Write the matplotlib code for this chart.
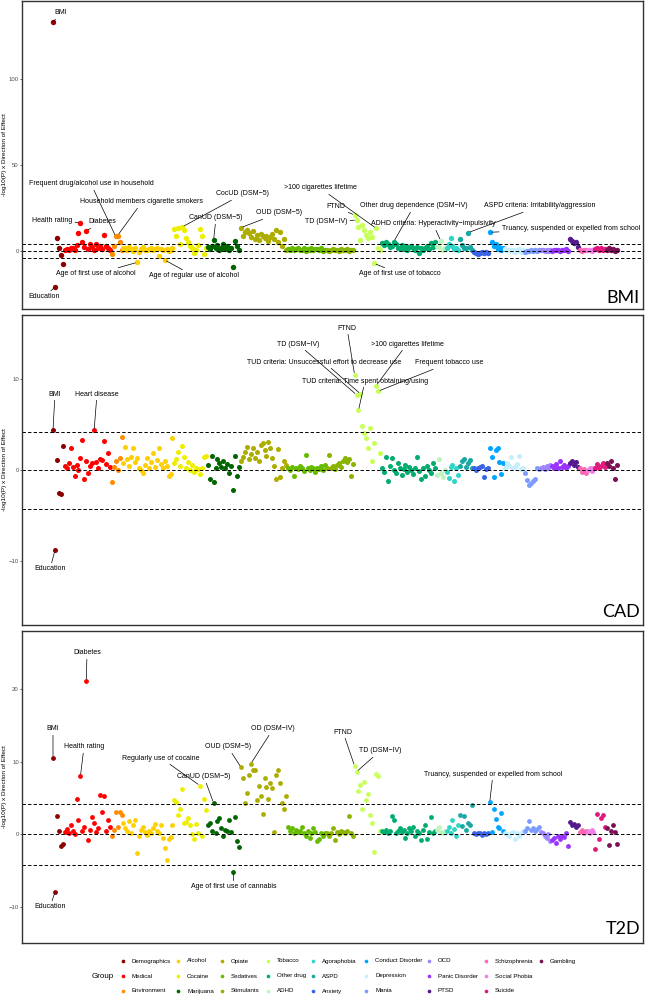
import matplotlib
matplotlib.use("Agg")
import matplotlib.pyplot as plt
import numpy as np

# ---------------- data ----------------
groups = ["Demographics", "Medical", "Environment", "Alcohol", "Cocaine", "Marijuana",
          "Opiate", "Sedatives", "Stimulants", "Tobacco", "Other drug", "ADHD",
          "Agoraphobia", "ASPD", "Anxiety", "Conduct Disorder", "Depression", "Mania",
          "OCD", "Panic Disorder", "PTSD", "Schizophrenia", "Social Phobia", "Suicide",
          "Gambling"]
group_colors = ["#8B0000", "#FF0000", "#FF8C00", "#FFD000", "#EEEE00", "#006400",
                "#ADAD00", "#66BB00", "#8AB400", "#C8FF5A", "#00AD6E", "#BDF5BD",
                "#30D5C8", "#1AA8A0", "#3A63E8", "#00A5FF", "#C6EEFF", "#7E9CFF",
                "#9F86FF", "#9933FF", "#54198C", "#FF66B3", "#F080E8", "#E0197D",
                "#7B1155"]

bmi_values = [
    [133, -21, 7.8, 1.5, -2.3, -7.8],
    [0.5, 1.2, 0.8, 2.0, 1.5, 0.3, 3.5, 10.3, 16.5, 5.5, 2.5, 11.8, 1.0, 3.8, 2.2, 0.6, 4.0, 1.5, 2.8, 0.9, 9.3, 3.0, 1.8, 0.7],
    [-1.7, 3.0, 8.5, 9.0, 5.5, 0.8],
    [2.0, 1.5, 0.5, 2.5, 1.0, 0.2, 1.8, -6.6, -0.5, 1.2, 2.2, 0.4, 0.8, 0.9, 1.6, 0.3, 1.0, 2.0, -2.9, 1.4, 0.6, -5.2, 1.1, 0.2, 0.5, 1.8],
    [13.0, 8.5, 13.5, 4.0, 14.0, 12.0, 7.5, 5.5, 3.0, 1.5, -1.0, 0.5, 3.5, 12.6, 9.0, -1.5, 2.0],
    [2.5, 1.0, 3.0, 6.4, 1.5, 3.5, 0.5, 2.0, 4.0, 1.2, 2.8, 0.3, 1.8, -9.1, 5.8, 3.0, 0.8],
    [13.6, 9.0, 11.0, 12.0, 10.5, 8.0, 11.5, 7.0, 9.5, 6.5, 10.0, 8.5, 7.5, 9.0, 6.0, 8.0, 10.0, 7.0, 12.5, 5.5, 11.0, 3.0, 7.0, 0.5],
    [1.2, 0.5, 1.8, 0.3, 1.0, 2.0, 0.8, 0.4, 1.5, 0.2, 1.0, 0.6, 1.8, 0.3, 0.9, 1.3, 0.5, 1.6, 0.2, 0.8],
    [0.5, 0.2, 0.8, 1.0, 0.3, 0.6, 0.1, 0.9, 0.4, 0.7, 1.1, 0.2, 0.5, 0.8],
    [20.9, 18.0, 14.0, 6.5, 15.0, 12.0, 9.5, 7.5, 11.0, 8.0, -7.2, 13.2, 1.5, 0.5],
    [4.5, 3.5, 5.0, 4.0, 2.5, 3.0, 5.4, 4.2, 1.5, 2.0, 3.5, 1.0, 2.8, 0.5, 2.2, 3.0, 1.5, 0.8, 2.5, -1.0, 1.8, 0.3, 2.0, 3.2, 1.0, 4.5, 2.5, 5.0],
    [3.0, 2.5, 6.0, 0.5, 1.5],
    [1.5, 4.0, 7.4, 3.0, 1.0, 2.0, 0.5],
    [7.0, 3.5, 2.0, 1.5, 10.7, 2.5, 0.8],
    [-0.5, -1.2, -1.5, -1.0, -0.8, -1.3, -0.6, -1.0],
    [10.9, 5.5, 3.0, 4.0, 1.0, 2.5, 0.5, 1.5],
    [1.0, 0.5, 0.8, 0.2, 0.6, -0.5, 0.3, 0.9, -0.8, 0.4],
    [-0.3, 0.2, 0.0, 0.5, -0.2, 0.3, 0.1, 0.4],
    [0.3, 0.6, 0.1, 0.4, 0.2, 0.5],
    [0.2, 0.5, 0.8, 0.3, 0.1, 0.6, 0.4, 0.9, 0.2],
    [7.0, 6.0, 4.5, 5.5, 2.5],
    [0.5, 0.2, 0.8, 0.4],
    [0.3, 0.6, 0.1, 0.5],
    [1.0, 1.5, 0.5, 2.0, 0.8, 1.2],
    [0.5, 1.5, 0.3, 1.0, 0.2, 0.8],
]

cad_values = [
    [4.4, -8.8, 1.1, -2.5, -2.6, 2.7],
    [0.5, 0.3, 0.8, 2.5, 0.4, -0.6, 0.6, 0.0, 1.4, 3.3, -1.0, 1.0, -0.3, 0.5, 0.8, 4.4, 0.9, 0.2, 1.2, 1.1, 3.2, 0.7, 1.9, 0.4],
    [-1.3, 0.4, 1.0, 0.0, 1.3, 3.7],
    [0.8, 2.6, 1.2, 0.5, 1.5, 2.5, 0.9, 1.4, 0.3, 0.0, -0.3, 0.6, 1.3, 0.2, 0.9, 1.9, 0.4, 1.1, 2.4, 0.7, 0.2, 1.0, 0.5, -0.6, -0.4, 3.6],
    [0.8, 1.2, 2.0, 0.5, 2.7, 1.5, 0.3, 0.9, 0.0, 0.6, -0.2, 0.3, 0.1, -0.4, 0.2, 1.5, 1.6],
    [0.6, -1.0, 1.6, -1.3, 0.3, 1.2, 0.8, 0.4, 1.0, 0.2, 0.7, -0.3, 0.5, -2.2, 1.6, -0.6, 0.4],
    [1.0, 1.5, 2.0, 2.6, 1.2, 1.8, 2.5, 1.4, 2.0, 1.0, 2.8, 3.0, 2.2, 1.6, 3.1, 2.4, 1.3, 0.5, -0.9, 2.3, -0.7, 0.3, 1.0, 0.6],
    [0.2, 0.0, 0.4, -0.6, 0.3, 0.1, 0.5, 0.2, -0.1, 1.7, 0.3, 0.0, 0.4, 0.2, -0.2, 0.3, 0.1, 0.5, 0.0, 0.6],
    [0.3, 1.7, 0.2, 0.5, 0.1, 0.6, 0.8, 0.4, 1.0, 1.4, 0.9, 1.2, -0.6, 0.7],
    [10.5, 8.3, 6.6, 8.4, 4.9, 4.1, 3.5, 2.5, 4.7, 1.0, 3.0, 9.3, 8.7, 1.9],
    [0.2, -0.2, 1.5, -1.2, 0.5, 1.4, 0.0, -0.3, 0.8, 0.3, -0.5, 0.1, 0.6, -0.2, 0.4, 0.0, -0.4, 0.2, 1.5, -0.1, -1.0, 0.3, -0.6, 0.5, 0.0, -0.3, 0.8, 0.3],
    [-0.5, 1.2, -0.3, -0.7, 0.0],
    [-0.2, -0.8, 0.4, 0.6, -1.2, 0.3, -0.5],
    [0.5, 1.0, 1.2, 0.4, 0.8, 1.1, 0.2],
    [0.3, 0.0, 0.2, 0.4, 0.5, -0.7, 0.1, 0.3],
    [2.4, 1.5, -0.7, 2.2, 2.4, 0.9, -0.4, 0.8],
    [0.3, 0.8, 0.5, 1.5, 0.2, 0.4, 0.7, 1.6, 0.1, 0.3],
    [-0.3, -1.1, -1.6, -1.4, -1.2, -0.9, 0.3, 0.1],
    [0.3, 0.4, 0.1, 0.5, 0.2, 0.6],
    [0.5, 0.2, 0.7, 0.3, 1.0, 0.4, 0.6, 0.2, 0.5],
    [0.8, 1.0, 0.6, 0.9, 0.4],
    [0.2, -0.2, 0.1, -0.3],
    [0.0, 0.3, -0.1, 0.2],
    [0.3, 0.7, 0.2, 0.5, 0.8, 0.4],
    [0.8, 0.5, 1.0, 0.3, -1.0, 0.6],
]

t2d_values = [
    [10.5, -8.0, 2.5, 0.5, -1.7, -1.4],
    [0.3, 0.7, 0.2, 1.2, 0.5, 0.0, 4.8, 2.0, 8.0, 0.4, 1.0, 21.1, -0.8, 0.6, 2.4, 1.5, 0.3, 0.9, 5.4, 3.1, 5.2, 0.5, 2.0, 1.0],
    [-0.3, 0.6, 3.1, 1.0, 3.0, 2.7],
    [1.5, 0.8, 0.5, 1.8, 0.2, 1.2, 1.9, -2.6, -0.2, 0.6, 1.0, 0.3, -0.1, 0.5, 0.2, 0.8, 1.4, 0.4, 0.1, 1.2, -0.5, -1.9, -3.5, -0.6, -0.4, 1.3],
    [4.7, 4.5, 2.6, 3.5, 6.2, 1.5, 1.7, 2.2, 1.2, 0.0, -0.6, 1.4, 0.1, 6.7, -0.3, 4.9, 3.3],
    [1.2, 1.5, 0.5, 4.3, 0.2, 1.8, 2.2, 0.8, -0.3, 0.6, 0.4, 2.0, 0.3, -5.2, 2.4, -1.0, -1.8],
    [9.2, 7.7, 4.3, 5.7, 8.2, 9.7, 8.9, 8.9, 4.7, 6.6, 5.3, 2.8, 7.7, 6.5, 4.8, 7.0, 6.3, 0.3, 8.1, 8.8, 7.0, 4.3, 3.4, 5.3],
    [1.0, 0.4, 0.8, 0.2, 0.6, 0.3, 0.5, 1.0, 0.2, -0.3, 0.4, -0.5, 0.1, 0.8, 0.3, -1.0, -0.6, 0.2, -0.3, 0.1],
    [0.2, -0.3, 0.1, 0.8, -0.8, 0.3, 0.0, 0.5, 0.3, 0.1, 0.4, 2.5, 0.2, -0.3],
    [9.4, 8.6, 5.9, 6.8, 3.4, 7.2, 4.7, 5.6, 2.7, 1.5, -2.4, 8.3, 8.0, 0.5],
    [0.5, 0.3, 0.6, 0.2, 0.4, 2.5, 2.0, 0.1, 0.5, 0.8, 0.3, 0.6, -0.5, 0.2, 0.9, 0.4, 1.0, -0.3, 0.5, 0.2, -0.8, 0.6, 1.3, -0.6, 0.3, 2.3, 0.1, 0.4],
    [0.6, 1.0, 0.3, 0.2, 0.5],
    [0.4, 1.0, 0.1, 2.0, 0.7, -0.3, 1.3],
    [2.7, 1.1, 2.5, 0.6, 1.5, 1.2, 4.0],
    [0.1, 0.0, 0.2, 0.1, -0.1, 0.1, 0.0, 0.2],
    [4.4, 0.3, 3.4, 2.1, 1.0, 0.8, 2.9, 0.5],
    [0.2, 0.0, -0.3, 0.1, 0.3, -0.6, 0.2, -0.2, 0.1, 0.4],
    [0.5, 0.8, 1.8, 0.6, 0.9, 0.5, 0.7, 1.0],
    [0.3, 0.1, -0.2, -0.5, 0.0, -1.0],
    [-0.8, -0.5, -1.2, -0.3, -0.6, -0.2, -0.4, 0.2, -1.6],
    [1.7, 1.2, 1.4, 1.0, 1.3],
    [0.3, 0.6, 0.2, 0.4],
    [0.5, 0.2, 0.6, 0.3],
    [-2.0, 2.8, -0.6, 2.2, 2.7, 1.0],
    [0.8, -1.5, 0.5, 1.2, 0.3, -1.4],
]

# labelled phenotypes: (group, index in group, label, label position in figure pixels)
bmi_labels = [
    ("Demographics", 0, "BMI", 61, 13),
    ("Demographics", 1, "Education", 44, 297),
    ("Environment", 2, "Frequent drug/alcohol use in household", 91, 184),
    ("Environment", 3, "Household members cigarette smokers", 142, 202),
    ("Medical", 8, "Health rating", 52, 221),
    ("Medical", 11, "Diabetes", 102, 222),
    ("Alcohol", 7, "Age of first use of alcohol", 96, 274),
    ("Alcohol", 21, "Age of regular use of alcohol", 194, 276),
    ("Cocaine", 4, "CocUD (DSM\u22125)", 243, 194),
    ("Marijuana", 3, "CanUD (DSM\u22125)", 216, 218),
    ("Opiate", 0, "OUD (DSM\u22125)", 279, 213),
    ("Tobacco", 11, ">100 cigarettes lifetime", 320, 188),
    ("Tobacco", 0, "FTND", 336, 207),
    ("Tobacco", 1, "TD (DSM\u2212IV)", 326, 222),
    ("Other drug", 6, "Other drug dependence (DSM\u2212IV)", 414, 206),
    ("ADHD", 2, "ADHD criteria: Hyperactivity\u2212impulsivity", 433, 224),
    ("ASPD", 4, "ASPD criteria: Irritability/aggression", 540, 206),
    ("Conduct Disorder", 0, "Truancy, suspended or expelled from school", 571, 229),
    ("Tobacco", 10, "Age of first use of tobacco", 400, 274),
]
cad_labels = [
    ("Demographics", 0, "BMI", 55, 394),
    ("Medical", 15, "Heart disease", 97, 394),
    ("Demographics", 1, "Education", 50, 569),
    ("Tobacco", 1, "TD (DSM\u2212IV)", 298, 344),
    ("Tobacco", 3, "TUD criteria: Unsuccessful effort to decrease use", 324, 362),
    ("Tobacco", 2, "TUD criteria: Time spent obtaining/using", 365, 381),
    ("Tobacco", 0, "FTND", 347, 328),
    ("Tobacco", 11, ">100 cigarettes lifetime", 407, 344),
    ("Tobacco", 12, "Frequent tobacco use", 449, 363),
]
t2d_labels = [
    ("Medical", 11, "Diabetes", 87, 653),
    ("Demographics", 0, "BMI", 53, 729),
    ("Medical", 8, "Health rating", 84, 747),
    ("Cocaine", 13, "Regularly use of cocaine", 161, 758),
    ("Marijuana", 3, "CanUD (DSM\u22125)", 204, 777),
    ("Opiate", 0, "OUD (DSM\u22125)", 228, 747),
    ("Opiate", 5, "OD (DSM\u2212IV)", 273, 729),
    ("Marijuana", 13, "Age of first use of cannabis", 234, 887),
    ("Demographics", 1, "Education", 50, 907),
    ("Tobacco", 0, "FTND", 343, 732),
    ("Tobacco", 1, "TD (DSM\u2212IV)", 380, 751),
    ("Conduct Disorder", 0, "Truancy, suspended or expelled from school", 493, 774),
]

panel_names = ["BMI", "CAD", "T2D"]
bmi_yticks = [0, 50, 100]
cad_yticks = [-10, 0, 10]
t2d_yticks = [-10, 0, 10, 20]
threshold = 4.2
ylabel = "-log10(P) x Direction of Effect"

# ---------------- drawing ----------------
plt.rcParams['font.family'] = ["Liberation Sans", "DejaVu Sans"]
W, H = 647, 1000
fig = plt.figure(figsize=(W / 100, H / 100), dpi=100, facecolor="white")

counts = [len(v) for v in bmi_values]
for vals in (cad_values, t2d_values):
    assert [len(v) for v in vals] == counts
starts = np.cumsum([0] + counts[:-1])
x_by_group = [np.arange(s, s + c) for s, c in zip(starts, counts)]
n = sum(counts)

# legend overlay (figure pixel space)
ax_leg = fig.add_axes([0, 0, 1, 1])
ax_leg.set_xlim(0, W)
ax_leg.set_ylim(H, 0)
ax_leg.axis("off")
ax_leg.patch.set_alpha(0)

panels = [
    dict(name=panel_names[0], values=bmi_values, labels=bmi_labels, rect=(22, 1, 643, 309),
         ylim=(-33.7, 145.3), yticks=bmi_yticks, s=15, name_y=0.02),
    dict(name=panel_names[1], values=cad_values, labels=cad_labels, rect=(22, 315, 643, 625),
         ylim=(-17.0, 17.07), yticks=cad_yticks, s=13, name_y=0.026),
    dict(name=panel_names[2], values=t2d_values, labels=t2d_labels, rect=(22, 631, 643, 943),
         ylim=(-15.0, 28.0), yticks=t2d_yticks, s=12, name_y=0.03),
]

px_first, px_last = 53, 617
sp = (px_last - px_first) / (n - 1)

for p in panels:
    x0, y0, x1, y1 = p["rect"]
    ax = fig.add_axes([x0 / W, 1 - y1 / H, (x1 - x0) / W, (y1 - y0) / H])
    ax.set_xlim(-(px_first - x0) / sp, (n - 1) + (x1 - px_last) / sp)
    ax.set_ylim(*p["ylim"])
    for gi, vals in enumerate(p["values"]):
        ax.scatter(x_by_group[gi], vals, s=p["s"], color=group_colors[gi],
                   linewidths=0, zorder=2)
    for yv in (threshold, 0, -threshold):
        ax.axhline(yv, color="black", lw=0.7, ls=(0, (3.5, 2.2)), zorder=2.5)
    ax.set_xticks([])
    ax.set_yticks(p["yticks"])
    ax.set_yticklabels([str(t).replace("-", "\u2212") for t in p["yticks"]])
    ax.tick_params(axis="y", length=1.5, width=0.5, color="#333333",
                   labelsize=4.3, labelcolor="#4D4D4D", pad=0.8)
    for sp_ in ax.spines.values():
        sp_.set_color("#333333")
        sp_.set_linewidth(1.0)
    inv = ax.transData.inverted()
    for grp, i, text, tx, ty in p["labels"]:
        gi = groups.index(grp)
        xp = x_by_group[gi][i]
        yp = p["values"][gi][i]
        txy = inv.transform((tx, H - ty))
        ax.annotate(text, xy=(xp, yp), xytext=(txy[0], txy[1]), textcoords="data",
                    ha="center", va="center", fontsize=5.0, zorder=4,
                    arrowprops=dict(arrowstyle="-", color="black", lw=0.5,
                                    shrinkA=0.0, shrinkB=1.5))
    ax.text(0.995, p["name_y"], p["name"], transform=ax.transAxes, ha="right",
            va="baseline", fontsize=13, family=["Lato", "DejaVu Sans"])
    fig.text(5 / W, 1 - (y0 + y1) / 2 / H, ylabel, rotation=90, ha="center",
             va="center", fontsize=4.6)

# legend
col_x = [123, 178, 222, 268, 313, 366, 429, 486, 541]
row_y = [961, 976, 991]
for j, (g, c) in enumerate(zip(groups, group_colors)):
    cx = col_x[j // 3]
    ry = row_y[j % 3]
    ax_leg.scatter([cx], [ry], s=7, color=c, linewidths=0)
    ax_leg.text(cx + 9, ry, g, fontsize=4.4, ha="left", va="center")
ax_leg.text(103, 976, "Group", fontsize=5.8, ha="center", va="center")

fig.savefig("out.png", dpi=100, facecolor="white")
